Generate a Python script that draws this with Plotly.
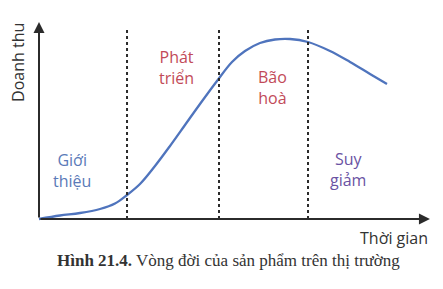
import plotly.graph_objects as go

# Data (arbitrary units: time t, revenue r)
curve_t = [0.0, 0.2333, 0.4556, 0.6778, 0.8444, 0.9778, 1.1222, 1.2889, 1.4556,
           1.6222, 1.7889, 1.9778, 2.1444, 2.2889, 2.4556, 2.6222, 2.7889,
           2.9889, 3.2333, 3.4556, 3.6778, 3.8667]
curve_r = [0.0, 1.94, 3.33, 5.56, 8.61, 13.33, 19.44, 29.44, 40.56,
           52.22, 63.89, 76.67, 87.22, 93.33, 97.78, 99.72, 100.0,
           98.33, 93.33, 87.22, 80.56, 75.0]
boundaries = [0.978, 2.0, 2.989]
stage_labels = ["Giới<br>thiệu", "Phát<br>triển", "Bão<br>hoà", "Suy<br>giảm"]
stage_t = [0.367, 1.533, 2.589, 3.433]
stage_r = [26.7, 83.9, 72.8, 27.5]
stage_colors = ["#5a7ab8", "#c24a58", "#c24a58", "#6a52a3"]
y_title = "Doanh thu"
x_title = "Thời gian"
caption = "<b>Hình 21.4.</b> Vòng đời của sản phẩm trên thị trường"

x_max = 4.344
y_max = 109.4
dash_top = 105.0

fig = go.Figure()
fig.add_trace(go.Scatter(x=curve_t, y=curve_r, mode="lines",
                         line=dict(color="#4f74bd", width=2.3, shape="spline", smoothing=1.0),
                         hoverinfo="skip", showlegend=False))

for b in boundaries:
    fig.add_shape(type="line", x0=b, x1=b, y0=0, y1=dash_top, xref="x", yref="y",
                  line=dict(color="#2b2b2b", width=2, dash="3px,3px"))

# axes with arrows
fig.add_annotation(x=x_max, y=0, ax=0, ay=0, xref="x", yref="y", axref="x", ayref="y",
                   showarrow=True, arrowhead=2, arrowsize=1.1, arrowwidth=2,
                   arrowcolor="#2b2b2b", text="")
fig.add_annotation(x=0, y=y_max, ax=0, ay=0, xref="x", yref="y", axref="x", ayref="y",
                   showarrow=True, arrowhead=2, arrowsize=1.1, arrowwidth=2,
                   arrowcolor="#2b2b2b", text="")

font_sans = "Open Sans"
for lab, t, r, c in zip(stage_labels, stage_t, stage_r, stage_colors):
    fig.add_annotation(x=t, y=r, text=lab, showarrow=False, xref="x", yref="y",
                       font=dict(family=font_sans, size=16, color=c), align="center")

fig.add_annotation(x=-0.233, y=86.7, text=y_title, textangle=-90, showarrow=False,
                   font=dict(family=font_sans, size=16, color="#333333"))
fig.add_annotation(x=x_max, y=-10.6, text=x_title, xanchor="right", showarrow=False,
                   font=dict(family=font_sans, size=16, color="#333333"))
fig.add_annotation(x=2.1, y=-23.3, text=caption, showarrow=False,
                   font=dict(family="Liberation Serif", size=17, color="#333333"))

fig.update_layout(width=443, height=289, margin=dict(l=0, r=0, t=0, b=0),
                  paper_bgcolor="white", plot_bgcolor="white",
                  xaxis=dict(range=[-39/90, 404/90], visible=False, fixedrange=True),
                  yaxis=dict(range=[-70/1.8, 219/1.8], visible=False, fixedrange=True))

fig.write_html("out.html")
